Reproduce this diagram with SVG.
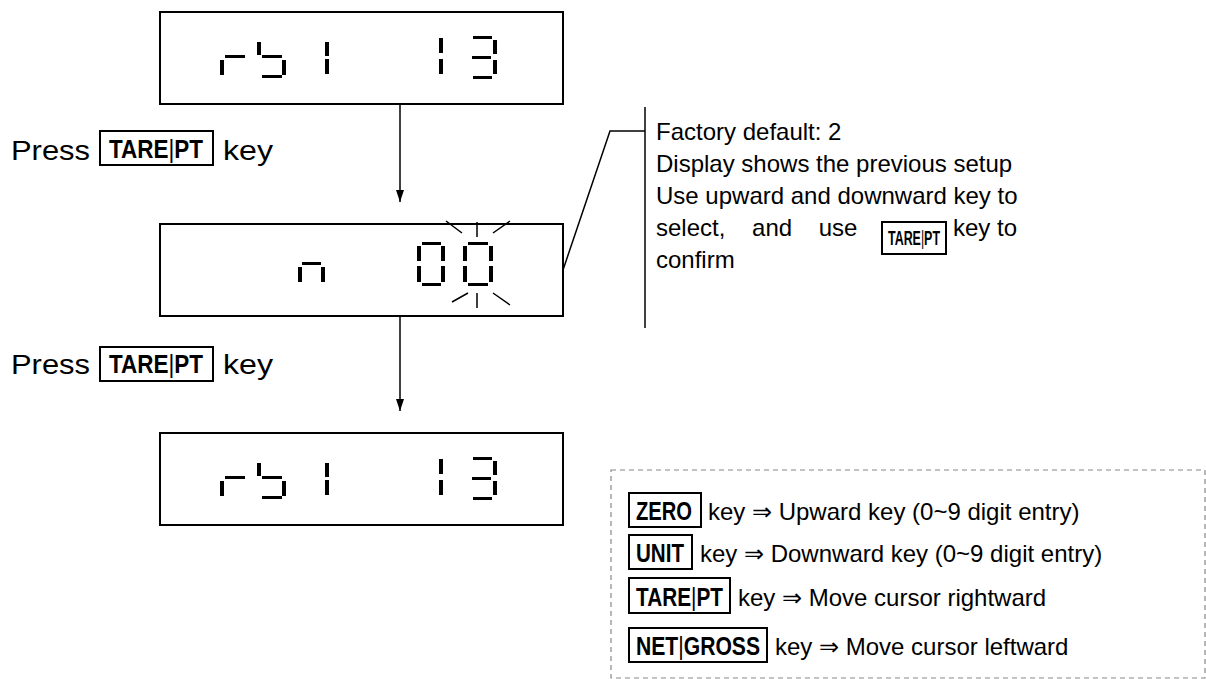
<svg xmlns="http://www.w3.org/2000/svg" width="1206" height="679" viewBox="0 0 1206 679">
<defs>
<style>
.box{fill:none;stroke:#000;stroke-width:2}
.seg{fill:#000}
.t24{font-family:"Liberation Sans",Arial,sans-serif;font-size:24px;fill:#000}
.t28{font-family:"Liberation Sans",Arial,sans-serif;font-size:28px;fill:#000}
.k21{font-family:"Liberation Sans",Arial,sans-serif;font-size:21px;font-weight:bold;fill:#000}
.k25{font-family:"Liberation Sans",Arial,sans-serif;font-size:25px;font-weight:bold;fill:#000}
.bar{font-weight:normal}
.kbox{fill:none;stroke:#000;stroke-width:2}
.blink{stroke:#000;stroke-width:1.5;fill:none}
.conn{stroke:#000;stroke-width:1.5;fill:none}
</style>
<g id="d-rb1-13">
<rect class="seg" x="220" y="60" width="4" height="15"/>
<rect class="seg" x="225" y="55" width="20" height="3"/>
<rect class="seg" x="257" y="42" width="4" height="13"/>
<rect class="seg" x="262" y="55" width="20" height="3"/>
<rect class="seg" x="282" y="60" width="4" height="15"/>
<rect class="seg" x="262" y="75" width="20" height="3"/>
<rect class="seg" x="325" y="42" width="4" height="14"/>
<rect class="seg" x="325" y="59" width="4" height="15"/>
<rect class="seg" x="439" y="38" width="4" height="15"/>
<rect class="seg" x="439" y="59" width="4" height="15"/>
<rect class="seg" x="473" y="36" width="19" height="3"/>
<rect class="seg" x="493" y="40" width="4" height="14"/>
<rect class="seg" x="472" y="56" width="19" height="3"/>
<rect class="seg" x="493" y="60" width="4" height="14"/>
<rect class="seg" x="473" y="76" width="19" height="3"/>
</g>
<marker id="ah" markerWidth="12" markerHeight="8" refX="12" refY="4" orient="auto" markerUnits="userSpaceOnUse" viewBox="0 0 12 8">
<path d="M0,0 L12,4 L0,8 Z" fill="#000"/>
</marker>
</defs>

<g id="node-display1">
<rect class="box" x="160" y="12" width="403" height="92"/>
<use href="#d-rb1-13"/>
</g>

<g id="node-display2">
<rect class="box" x="160" y="224" width="403" height="92"/>
<rect class="seg" x="302" y="262" width="19" height="3"/>
<rect class="seg" x="298" y="267" width="4" height="15"/>
<rect class="seg" x="321" y="267" width="4" height="15"/>
<rect class="seg" x="422" y="242" width="19" height="3"/>
<rect class="seg" x="417" y="246" width="4" height="15"/>
<rect class="seg" x="441" y="246" width="4" height="15"/>
<rect class="seg" x="417" y="266" width="4" height="16"/>
<rect class="seg" x="441" y="266" width="4" height="16"/>
<rect class="seg" x="422" y="283" width="19" height="3"/>
<rect class="seg" x="468" y="242" width="20" height="3"/>
<rect class="seg" x="463" y="246" width="4" height="15"/>
<rect class="seg" x="489" y="246" width="4" height="15"/>
<rect class="seg" x="463" y="266" width="4" height="16"/>
<rect class="seg" x="489" y="266" width="4" height="16"/>
<rect class="seg" x="468" y="283" width="20" height="3"/>
<path class="blink" d="M446,221 L462,233 M477,222 L477,237 M493,233 L510,221 M452,302 L468,293 M477,293 L477,308 M493,293 L510,305"/>
</g>

<g id="node-display3">
<rect class="box" x="160" y="433" width="403" height="92"/>
<use href="#d-rb1-13" transform="translate(0,421)"/>
</g>

<g id="label-press1">
<text class="t28" x="11" y="160" textLength="79" lengthAdjust="spacingAndGlyphs">Press</text>
<rect class="kbox" x="100" y="131" width="113" height="34"/>
<text class="k25" x="109" y="158" textLength="94" lengthAdjust="spacingAndGlyphs">TARE<tspan class="bar">|</tspan>PT</text>
<text class="t28" x="223" y="160" textLength="50" lengthAdjust="spacingAndGlyphs">key</text>
</g>

<g id="label-press2">
<text class="t28" x="11" y="374" textLength="79" lengthAdjust="spacingAndGlyphs">Press</text>
<rect class="kbox" x="100" y="347" width="113" height="34"/>
<text class="k25" x="109" y="373" textLength="94" lengthAdjust="spacingAndGlyphs">TARE<tspan class="bar">|</tspan>PT</text>
<text class="t28" x="223" y="374" textLength="50" lengthAdjust="spacingAndGlyphs">key</text>
</g>

<g id="note">
<text class="t24" x="656" y="140">Factory default: 2</text>
<text class="t24" x="656" y="172">Display shows the previous setup</text>
<text class="t24" x="656" y="204">Use upward and downward key to</text>
<text class="t24" x="656" y="236" word-spacing="20">select, and use</text>
<rect class="kbox" x="882" y="222" width="64" height="32"/>
<text class="k21" x="888" y="245" textLength="52" lengthAdjust="spacingAndGlyphs">TARE<tspan class="bar">|</tspan>PT</text>
<text class="t24" x="953" y="236">key to</text>
<text class="t24" x="656" y="268">confirm</text>
</g>

<g id="legend">
<rect x="611" y="470" width="594" height="208" fill="none" stroke="#888" stroke-width="1.2" stroke-dasharray="5,4"/>
<rect class="kbox" x="629" y="493" width="72" height="34"/>
<text class="k25" x="636" y="520" textLength="56" lengthAdjust="spacingAndGlyphs">ZERO</text>
<text class="t24" x="708" y="520">key ⇒ Upward key (0~9 digit entry)</text>
<rect class="kbox" x="629" y="535" width="63" height="34"/>
<text class="k25" x="636" y="562" textLength="48" lengthAdjust="spacingAndGlyphs">UNIT</text>
<text class="t24" x="700" y="562">key ⇒ Downward key (0~9 digit entry)</text>
<rect class="kbox" x="629" y="578" width="101" height="35"/>
<text class="k25" x="636" y="606" textLength="87" lengthAdjust="spacingAndGlyphs">TARE<tspan class="bar">|</tspan>PT</text>
<text class="t24" x="738" y="606">key ⇒ Move cursor rightward</text>
<rect class="kbox" x="629" y="628" width="138" height="34"/>
<text class="k25" x="636" y="655" textLength="124" lengthAdjust="spacingAndGlyphs">NET<tspan class="bar">|</tspan>GROSS</text>
<text class="t24" x="775" y="655">key ⇒ Move cursor leftward</text>
</g>

<g id="connectors">
<line class="conn" x1="400" y1="104" x2="400" y2="202" marker-end="url(#ah)"/>
<line class="conn" x1="400" y1="316" x2="400" y2="411" marker-end="url(#ah)"/>
<polyline class="conn" points="563,270 610,131 645,131"/>
<line class="conn" x1="645" y1="107" x2="645" y2="328"/>
</g>
</svg>
